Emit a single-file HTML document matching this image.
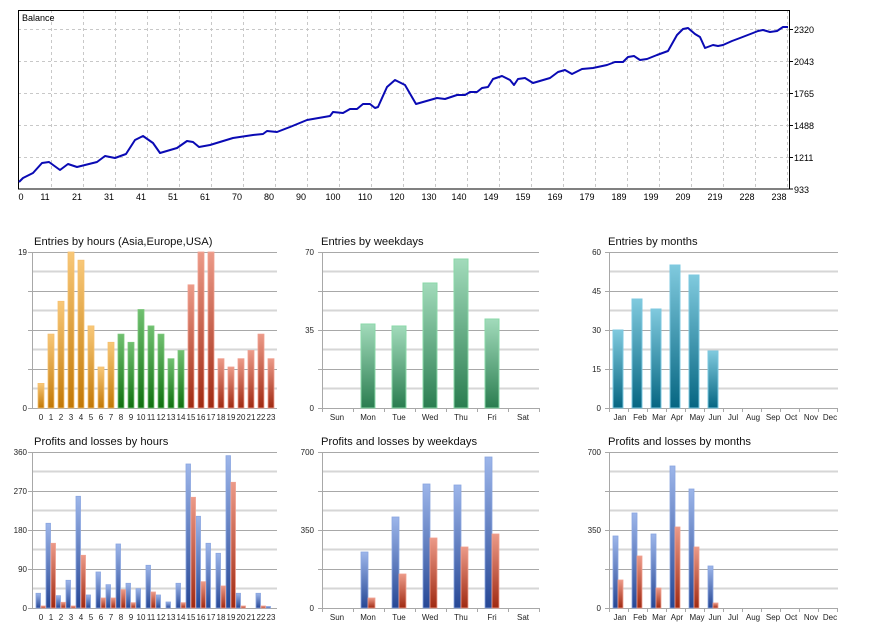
<!DOCTYPE html>
<html><head><meta charset="utf-8"><style>
html,body{margin:0;padding:0;background:#fff;}
svg{display:block;font-family:"Liberation Sans",sans-serif;}
</style></head><body>
<svg width="870" height="637" viewBox="0 0 870 637" xmlns="http://www.w3.org/2000/svg">
<defs>
<linearGradient id="gO" x1="0" y1="0" x2="0" y2="1"><stop offset="0" stop-color="#f8c878"/><stop offset="1" stop-color="#c27806"/></linearGradient>
<linearGradient id="gG" x1="0" y1="0" x2="0" y2="1"><stop offset="0" stop-color="#70c070"/><stop offset="1" stop-color="#107010"/></linearGradient>
<linearGradient id="gR" x1="0" y1="0" x2="0" y2="1"><stop offset="0" stop-color="#ec9a88"/><stop offset="1" stop-color="#a02a12"/></linearGradient>
<linearGradient id="gW" x1="0" y1="0" x2="0" y2="1"><stop offset="0" stop-color="#a2dbbb"/><stop offset="1" stop-color="#2a7d50"/></linearGradient>
<linearGradient id="gT" x1="0" y1="0" x2="0" y2="1"><stop offset="0" stop-color="#80cade"/><stop offset="1" stop-color="#066682"/></linearGradient>
<linearGradient id="gB" x1="0" y1="0" x2="0" y2="1"><stop offset="0" stop-color="#9db6ea"/><stop offset="1" stop-color="#264795"/></linearGradient>
</defs>

<g stroke="#c8c8c8" stroke-width="1" stroke-dasharray="3,3">
<line x1="18" y1="29.5" x2="789" y2="29.5"/><line x1="18" y1="61.5" x2="789" y2="61.5"/><line x1="18" y1="93.5" x2="789" y2="93.5"/><line x1="18" y1="125.5" x2="789" y2="125.5"/><line x1="18" y1="157.5" x2="789" y2="157.5"/>
<line x1="51.5" y1="10" x2="51.5" y2="189"/><line x1="83.5" y1="10" x2="83.5" y2="189"/><line x1="115.5" y1="10" x2="115.5" y2="189"/><line x1="147.5" y1="10" x2="147.5" y2="189"/><line x1="179.5" y1="10" x2="179.5" y2="189"/><line x1="211.5" y1="10" x2="211.5" y2="189"/><line x1="243.5" y1="10" x2="243.5" y2="189"/><line x1="275.5" y1="10" x2="275.5" y2="189"/><line x1="307.5" y1="10" x2="307.5" y2="189"/><line x1="339.5" y1="10" x2="339.5" y2="189"/><line x1="371.5" y1="10" x2="371.5" y2="189"/><line x1="403.5" y1="10" x2="403.5" y2="189"/><line x1="435.5" y1="10" x2="435.5" y2="189"/><line x1="467.5" y1="10" x2="467.5" y2="189"/><line x1="499.5" y1="10" x2="499.5" y2="189"/><line x1="531.5" y1="10" x2="531.5" y2="189"/><line x1="563.5" y1="10" x2="563.5" y2="189"/><line x1="595.5" y1="10" x2="595.5" y2="189"/><line x1="627.5" y1="10" x2="627.5" y2="189"/><line x1="659.5" y1="10" x2="659.5" y2="189"/><line x1="691.5" y1="10" x2="691.5" y2="189"/><line x1="723.5" y1="10" x2="723.5" y2="189"/><line x1="755.5" y1="10" x2="755.5" y2="189"/><line x1="787.5" y1="10" x2="787.5" y2="189"/>
</g>
<rect x="18.5" y="10.5" width="771" height="178.5" fill="none" stroke="#000" stroke-width="1"/>
<g stroke="#000"><line x1="789" y1="29.5" x2="793" y2="29.5"/><line x1="789" y1="61.5" x2="793" y2="61.5"/><line x1="789" y1="93.5" x2="793" y2="93.5"/><line x1="789" y1="125.5" x2="793" y2="125.5"/><line x1="789" y1="157.5" x2="793" y2="157.5"/><line x1="789" y1="189" x2="793" y2="189"/></g>
<text x="22" y="21" font-size="9">Balance</text>
<polyline fill="none" stroke="#0a0ab4" stroke-width="2" stroke-linejoin="round" points="19,182 23,178 33,173 42,163 49,162 60,170 68,164 77,167 97,162 105,156 115,158 126,154 135,140 143,136 153,143 160,153 177,148 187,141 193,142 199,147 210,145 233,138 253,135 263,134 267,131 277,132 290,127 307,120 330,116 333,112 343,113 350,109 357,109 363,104 370,104 375,108 378,107 387,87 395,80 405,85 416,104 423,102 437,98 445,99 457,95 465,95 470,92 477,92 482,88 488,87 493,79 502,76 510,80 514,85 518,79 525,78 533,83 550,78 558,72 565,70 572,74 582,69 593,68 607,65 615,62 623,62 628,57 634,56 640,60 647,59 657,55 668,51 677,35 683,29 688,28 695,34 700,37 705,48 713,45 718,46 723,45 732,41 740,38 753,33 758,31 763,30 770,32 777,31 783,27 788,27"/>
<g font-size="9" fill="#000">
<text x="794" y="33">2320</text><text x="794" y="65">2043</text><text x="794" y="97">1765</text><text x="794" y="129">1488</text><text x="794" y="161">1211</text><text x="794" y="193">933</text>
</g>
<g font-size="9" fill="#000" text-anchor="middle">
<text x="21" y="200">0</text><text x="45" y="200">11</text><text x="77" y="200">21</text><text x="109" y="200">31</text><text x="141" y="200">41</text><text x="173" y="200">51</text><text x="205" y="200">61</text><text x="237" y="200">70</text><text x="269" y="200">80</text><text x="301" y="200">90</text><text x="333" y="200">100</text><text x="365" y="200">110</text><text x="397" y="200">120</text><text x="429" y="200">130</text><text x="459" y="200">140</text><text x="491" y="200">149</text><text x="523" y="200">159</text><text x="555" y="200">169</text><text x="587" y="200">179</text><text x="619" y="200">189</text><text x="651" y="200">199</text><text x="683" y="200">209</text><text x="715" y="200">219</text><text x="747" y="200">228</text><text x="779" y="200">238</text>
</g>

<g>
<g stroke="#d6d6d6" stroke-width="2">
<line x1="32" y1="271.5" x2="277" y2="271.5"/><line x1="32" y1="310.5" x2="277" y2="310.5"/><line x1="32" y1="349.5" x2="277" y2="349.5"/><line x1="32" y1="388.5" x2="277" y2="388.5"/>
<line x1="322" y1="271.5" x2="539" y2="271.5"/><line x1="322" y1="310.5" x2="539" y2="310.5"/><line x1="322" y1="349.5" x2="539" y2="349.5"/><line x1="322" y1="388.5" x2="539" y2="388.5"/>
<line x1="609" y1="271.5" x2="838" y2="271.5"/><line x1="609" y1="310.5" x2="838" y2="310.5"/><line x1="609" y1="349.5" x2="838" y2="349.5"/><line x1="609" y1="388.5" x2="838" y2="388.5"/>
<line x1="32" y1="471.5" x2="277" y2="471.5"/><line x1="32" y1="510.5" x2="277" y2="510.5"/><line x1="32" y1="549.5" x2="277" y2="549.5"/><line x1="32" y1="588.5" x2="277" y2="588.5"/>
<line x1="322" y1="471.5" x2="539" y2="471.5"/><line x1="322" y1="510.5" x2="539" y2="510.5"/><line x1="322" y1="549.5" x2="539" y2="549.5"/><line x1="322" y1="588.5" x2="539" y2="588.5"/>
<line x1="609" y1="471.5" x2="838" y2="471.5"/><line x1="609" y1="510.5" x2="838" y2="510.5"/><line x1="609" y1="549.5" x2="838" y2="549.5"/><line x1="609" y1="588.5" x2="838" y2="588.5"/>
</g>
<g stroke="#a8a8a8" stroke-width="1">
<line x1="28" y1="252.5" x2="277" y2="252.5"/><line x1="28" y1="291.5" x2="277" y2="291.5"/><line x1="28" y1="330.5" x2="277" y2="330.5"/><line x1="28" y1="369.5" x2="277" y2="369.5"/><line x1="28" y1="408.5" x2="277" y2="408.5"/><line x1="32.5" y1="252" x2="32.5" y2="408"/>
<line x1="318" y1="252.5" x2="539" y2="252.5"/><line x1="318" y1="291.5" x2="539" y2="291.5"/><line x1="318" y1="330.5" x2="539" y2="330.5"/><line x1="318" y1="369.5" x2="539" y2="369.5"/><line x1="318" y1="408.5" x2="539" y2="408.5"/><line x1="322.5" y1="252" x2="322.5" y2="412"/>
<line x1="605" y1="252.5" x2="838" y2="252.5"/><line x1="605" y1="291.5" x2="838" y2="291.5"/><line x1="605" y1="330.5" x2="838" y2="330.5"/><line x1="605" y1="369.5" x2="838" y2="369.5"/><line x1="605" y1="408.5" x2="838" y2="408.5"/><line x1="609.5" y1="252" x2="609.5" y2="412"/>
<line x1="28" y1="452.5" x2="277" y2="452.5"/><line x1="28" y1="491.5" x2="277" y2="491.5"/><line x1="28" y1="530.5" x2="277" y2="530.5"/><line x1="28" y1="569.5" x2="277" y2="569.5"/><line x1="28" y1="608.5" x2="277" y2="608.5"/><line x1="32.5" y1="452" x2="32.5" y2="608"/>
<line x1="318" y1="452.5" x2="539" y2="452.5"/><line x1="318" y1="491.5" x2="539" y2="491.5"/><line x1="318" y1="530.5" x2="539" y2="530.5"/><line x1="318" y1="569.5" x2="539" y2="569.5"/><line x1="318" y1="608.5" x2="539" y2="608.5"/><line x1="322.5" y1="452" x2="322.5" y2="612"/>
<line x1="605" y1="452.5" x2="838" y2="452.5"/><line x1="605" y1="491.5" x2="838" y2="491.5"/><line x1="605" y1="530.5" x2="838" y2="530.5"/><line x1="605" y1="569.5" x2="838" y2="569.5"/><line x1="605" y1="608.5" x2="838" y2="608.5"/><line x1="609.5" y1="452" x2="609.5" y2="612"/>
<line x1="353.5" y1="408" x2="353.5" y2="412"/><line x1="384.5" y1="408" x2="384.5" y2="412"/><line x1="415.5" y1="408" x2="415.5" y2="412"/><line x1="446.5" y1="408" x2="446.5" y2="412"/><line x1="477.5" y1="408" x2="477.5" y2="412"/><line x1="508.5" y1="408" x2="508.5" y2="412"/><line x1="539.5" y1="408" x2="539.5" y2="412"/>
<line x1="353.5" y1="608" x2="353.5" y2="612"/><line x1="384.5" y1="608" x2="384.5" y2="612"/><line x1="415.5" y1="608" x2="415.5" y2="612"/><line x1="446.5" y1="608" x2="446.5" y2="612"/><line x1="477.5" y1="608" x2="477.5" y2="612"/><line x1="508.5" y1="608" x2="508.5" y2="612"/><line x1="539.5" y1="608" x2="539.5" y2="612"/>
<line x1="628.5" y1="408" x2="628.5" y2="412"/><line x1="647.5" y1="408" x2="647.5" y2="412"/><line x1="666.5" y1="408" x2="666.5" y2="412"/><line x1="685.5" y1="408" x2="685.5" y2="412"/><line x1="704.5" y1="408" x2="704.5" y2="412"/><line x1="723.5" y1="408" x2="723.5" y2="412"/><line x1="742.5" y1="408" x2="742.5" y2="412"/><line x1="761.5" y1="408" x2="761.5" y2="412"/><line x1="780.5" y1="408" x2="780.5" y2="412"/><line x1="799.5" y1="408" x2="799.5" y2="412"/><line x1="818.5" y1="408" x2="818.5" y2="412"/><line x1="837.5" y1="408" x2="837.5" y2="412"/>
<line x1="628.5" y1="608" x2="628.5" y2="612"/><line x1="647.5" y1="608" x2="647.5" y2="612"/><line x1="666.5" y1="608" x2="666.5" y2="612"/><line x1="685.5" y1="608" x2="685.5" y2="612"/><line x1="704.5" y1="608" x2="704.5" y2="612"/><line x1="723.5" y1="608" x2="723.5" y2="612"/><line x1="742.5" y1="608" x2="742.5" y2="612"/><line x1="761.5" y1="608" x2="761.5" y2="612"/><line x1="780.5" y1="608" x2="780.5" y2="612"/><line x1="799.5" y1="608" x2="799.5" y2="612"/><line x1="818.5" y1="608" x2="818.5" y2="612"/><line x1="837.5" y1="608" x2="837.5" y2="612"/>
</g>
</g>

<g font-size="11.2" fill="#111">
<text x="34" y="245">Entries by hours (Asia,Europe,USA)</text>
<text x="321" y="245">Entries by weekdays</text>
<text x="608" y="245">Entries by months</text>
<text x="34" y="445">Profits and losses by hours</text>
<text x="321" y="445">Profits and losses by weekdays</text>
<text x="608" y="445">Profits and losses by months</text>
</g>

<g font-size="8" fill="#222" text-anchor="end">
<text x="27" y="255">19</text><text x="27" y="411">0</text>
<text x="314" y="255">70</text><text x="314" y="333">35</text><text x="314" y="411">0</text>
<text x="601" y="255">60</text><text x="601" y="294">45</text><text x="601" y="333">30</text><text x="601" y="372">15</text><text x="601" y="411">0</text>
<text x="27" y="455">360</text><text x="27" y="494">270</text><text x="27" y="533">180</text><text x="27" y="572">90</text><text x="27" y="611">0</text>
<text x="314" y="455">700</text><text x="314" y="533">350</text><text x="314" y="611">0</text>
<text x="601" y="455">700</text><text x="601" y="533">350</text><text x="601" y="611">0</text>
</g>

<g stroke-width="0.8">
<g fill="url(#gO)" stroke="#f6c070">
<rect x="38" y="383.4" width="6" height="24.6"/><rect x="48" y="334.1" width="6" height="73.9"/><rect x="58" y="301.3" width="6" height="106.7"/><rect x="68" y="252" width="6" height="156"/><rect x="78" y="260.2" width="6" height="147.8"/><rect x="88" y="325.9" width="6" height="82.1"/><rect x="98" y="367" width="6" height="41"/><rect x="108" y="342.3" width="6" height="65.7"/>
</g>
<g fill="url(#gG)" stroke="#7cc87c">
<rect x="118" y="334.1" width="6" height="73.9"/><rect x="128" y="342.3" width="6" height="65.7"/><rect x="138" y="309.5" width="6" height="98.5"/><rect x="148" y="325.9" width="6" height="82.1"/><rect x="158" y="334.1" width="6" height="73.9"/><rect x="168" y="358.7" width="6" height="49.3"/><rect x="178" y="350.5" width="6" height="57.5"/>
</g>
<g fill="url(#gR)" stroke="#f0a090">
<rect x="188" y="284.8" width="6" height="123.2"/><rect x="198" y="252" width="6" height="156"/><rect x="208" y="252" width="6" height="156"/><rect x="218" y="358.7" width="6" height="49.3"/><rect x="228" y="367" width="6" height="41"/><rect x="238" y="358.7" width="6" height="49.3"/><rect x="248" y="350.5" width="6" height="57.5"/><rect x="258" y="334.1" width="6" height="73.9"/><rect x="268" y="358.7" width="6" height="49.3"/>
</g>
</g>
<g font-size="8" fill="#222" text-anchor="middle">
<text x="41" y="420">0</text><text x="51" y="420">1</text><text x="61" y="420">2</text><text x="71" y="420">3</text><text x="81" y="420">4</text><text x="91" y="420">5</text><text x="101" y="420">6</text><text x="111" y="420">7</text><text x="121" y="420">8</text><text x="131" y="420">9</text><text x="141" y="420">10</text><text x="151" y="420">11</text><text x="161" y="420">12</text><text x="171" y="420">13</text><text x="181" y="420">14</text><text x="191" y="420">15</text><text x="201" y="420">16</text><text x="211" y="420">17</text><text x="221" y="420">18</text><text x="231" y="420">19</text><text x="241" y="420">20</text><text x="251" y="420">21</text><text x="261" y="420">22</text><text x="271" y="420">23</text>
<text x="41" y="620">0</text><text x="51" y="620">1</text><text x="61" y="620">2</text><text x="71" y="620">3</text><text x="81" y="620">4</text><text x="91" y="620">5</text><text x="101" y="620">6</text><text x="111" y="620">7</text><text x="121" y="620">8</text><text x="131" y="620">9</text><text x="141" y="620">10</text><text x="151" y="620">11</text><text x="161" y="620">12</text><text x="171" y="620">13</text><text x="181" y="620">14</text><text x="191" y="620">15</text><text x="201" y="620">16</text><text x="211" y="620">17</text><text x="221" y="620">18</text><text x="231" y="620">19</text><text x="241" y="620">20</text><text x="251" y="620">21</text><text x="261" y="620">22</text><text x="271" y="620">23</text>
</g>

<g stroke-width="0.8">
<g fill="url(#gB)" stroke="#8aa6e0">
<rect x="36" y="593.3" width="4.5" height="14.7"/><rect x="46" y="523.3" width="4.5" height="84.7"/><rect x="56" y="595.7" width="4.5" height="12.3"/><rect x="66" y="580.3" width="4.5" height="27.7"/><rect x="76" y="496.3" width="4.5" height="111.7"/><rect x="86" y="595" width="4.5" height="13"/><rect x="96" y="572" width="4.5" height="36"/><rect x="106" y="584.7" width="4.5" height="23.3"/><rect x="116" y="544" width="4.5" height="64"/><rect x="126" y="583.3" width="4.5" height="24.7"/><rect x="136" y="588.7" width="4.5" height="19.3"/><rect x="146" y="565.3" width="4.5" height="42.7"/><rect x="156" y="595" width="4.5" height="13"/><rect x="166" y="602" width="4.5" height="6"/><rect x="176" y="583.3" width="4.5" height="24.7"/><rect x="186" y="464" width="4.5" height="144"/><rect x="196" y="516.3" width="4.5" height="91.7"/><rect x="206" y="543.3" width="4.5" height="64.7"/><rect x="216" y="553.3" width="4.5" height="54.7"/><rect x="226" y="455.7" width="4.5" height="152.3"/><rect x="236" y="593.3" width="4.5" height="14.7"/><rect x="256" y="593.3" width="4.5" height="14.7"/><rect x="266" y="606.5" width="4.5" height="1.5"/>
</g>
<g fill="url(#gR)" stroke="#f0a090">
<rect x="41" y="606" width="4.5" height="2"/><rect x="51" y="543.3" width="4.5" height="64.7"/><rect x="61" y="602.3" width="4.5" height="5.7"/><rect x="71" y="606" width="4.5" height="2"/><rect x="81" y="555.3" width="4.5" height="52.7"/><rect x="101" y="598" width="4.5" height="10"/><rect x="111" y="598" width="4.5" height="10"/><rect x="121" y="589.7" width="4.5" height="18.3"/><rect x="131" y="602.7" width="4.5" height="5.3"/><rect x="151" y="592" width="4.5" height="16"/><rect x="181" y="602.7" width="4.5" height="5.3"/><rect x="191" y="497.3" width="4.5" height="110.7"/><rect x="201" y="581.7" width="4.5" height="26.3"/><rect x="221" y="586" width="4.5" height="22"/><rect x="231" y="482.3" width="4.5" height="125.7"/><rect x="241" y="606" width="4.5" height="2"/><rect x="261" y="606" width="4.5" height="2"/>
</g>
</g>

<g fill="url(#gW)" stroke="#8ad8a8" stroke-width="1">
<rect x="361" y="324" width="14" height="84"/><rect x="392" y="326" width="14" height="82"/><rect x="423" y="283" width="14" height="125"/><rect x="454" y="259" width="14" height="149"/><rect x="485" y="319" width="14" height="89"/>
</g>
<g font-size="8" fill="#222" text-anchor="middle">
<text x="337" y="420">Sun</text><text x="368" y="420">Mon</text><text x="399" y="420">Tue</text><text x="430" y="420">Wed</text><text x="461" y="420">Thu</text><text x="492" y="420">Fri</text><text x="523" y="420">Sat</text>
<text x="337" y="620">Sun</text><text x="368" y="620">Mon</text><text x="399" y="620">Tue</text><text x="430" y="620">Wed</text><text x="461" y="620">Thu</text><text x="492" y="620">Fri</text><text x="523" y="620">Sat</text>
</g>

<g stroke-width="0.8">
<g fill="url(#gB)" stroke="#8aa6e0">
<rect x="361" y="552" width="7" height="56"/><rect x="392" y="517" width="7" height="91"/><rect x="423" y="484" width="7" height="124"/><rect x="454" y="485" width="7" height="123"/><rect x="485" y="457" width="7" height="151"/>
</g>
<g fill="url(#gR)" stroke="#f0a090">
<rect x="368" y="598" width="7" height="10"/><rect x="399" y="574" width="7" height="34"/><rect x="430" y="538" width="7" height="70"/><rect x="461" y="547" width="7" height="61"/><rect x="492" y="534" width="7" height="74"/>
</g>
</g>

<g fill="url(#gT)" stroke="#7cc8e0" stroke-width="1">
<rect x="613" y="330" width="10" height="78"/><rect x="632" y="299" width="10" height="109"/><rect x="651" y="309" width="10" height="99"/><rect x="670" y="265" width="10" height="143"/><rect x="689" y="275" width="10" height="133"/><rect x="708" y="351" width="10" height="57"/>
</g>
<g font-size="8" fill="#222" text-anchor="middle">
<text x="620" y="420">Jan</text><text x="640" y="420">Feb</text><text x="659" y="420">Mar</text><text x="677" y="420">Apr</text><text x="697" y="420">May</text><text x="715" y="420">Jun</text><text x="733" y="420">Jul</text><text x="753" y="420">Aug</text><text x="773" y="420">Sep</text><text x="791" y="420">Oct</text><text x="811" y="420">Nov</text><text x="830" y="420">Dec</text>
<text x="620" y="620">Jan</text><text x="640" y="620">Feb</text><text x="659" y="620">Mar</text><text x="677" y="620">Apr</text><text x="697" y="620">May</text><text x="715" y="620">Jun</text><text x="733" y="620">Jul</text><text x="753" y="620">Aug</text><text x="773" y="620">Sep</text><text x="791" y="620">Oct</text><text x="811" y="620">Nov</text><text x="830" y="620">Dec</text>
</g>

<g stroke-width="0.8">
<g fill="url(#gB)" stroke="#8aa6e0">
<rect x="613" y="536" width="5" height="72"/><rect x="632" y="513" width="5" height="95"/><rect x="651" y="534" width="5" height="74"/><rect x="670" y="466" width="5" height="142"/><rect x="689" y="489" width="5" height="119"/><rect x="708" y="566" width="5" height="42"/>
</g>
<g fill="url(#gR)" stroke="#f0a090">
<rect x="618" y="580" width="5" height="28"/><rect x="637" y="556" width="5" height="52"/><rect x="656" y="588" width="5" height="20"/><rect x="675" y="527" width="5" height="81"/><rect x="694" y="547" width="5" height="61"/><rect x="713" y="603" width="5" height="5"/>
</g>
</g>
</svg>
</body></html>
